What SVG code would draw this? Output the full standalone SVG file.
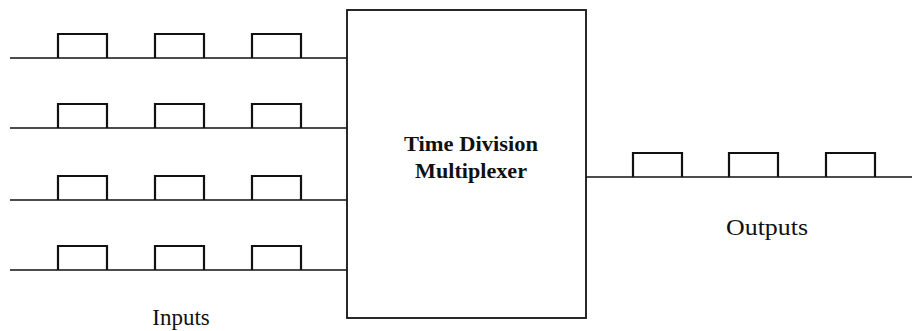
<svg xmlns="http://www.w3.org/2000/svg" width="912" height="331" viewBox="0 0 912 331">
  <defs>
    <style>
      .line { stroke: #111; stroke-width: 1.6; fill: none; }
      .pulse { stroke: #111; stroke-width: 2.2; fill: none; }
      .box { stroke: #111; stroke-width: 1.8; fill: #fff; }
      .title { font-family: "Liberation Serif", "Times New Roman", serif; font-weight: bold; font-size: 22px; fill: #111; }
      .label { font-family: "Liberation Serif", "Times New Roman", serif; font-size: 23px; fill: #111; }
    </style>
    <!-- one pulse: 49 wide, 24 tall, drawn from the baseline up -->
    <path id="pulseShape" d="M0,0 V-24 H49 V0"/>
  </defs>
  <rect width="912" height="331" fill="#fff"/>

  <g id="connectors">
    <!-- input lines -->
    <line class="line" x1="10" y1="58" x2="347" y2="58"/>
    <line class="line" x1="10" y1="128" x2="347" y2="128"/>
    <line class="line" x1="10" y1="200" x2="347" y2="200"/>
    <line class="line" x1="10" y1="270" x2="347" y2="270"/>
    <!-- output line -->
    <line class="line" x1="586" y1="177" x2="912" y2="177"/>
  </g>

  <g id="input-pulses">
    <use href="#pulseShape" class="pulse" x="58" y="58"/>
    <use href="#pulseShape" class="pulse" x="155" y="58"/>
    <use href="#pulseShape" class="pulse" x="252" y="58"/>
    <use href="#pulseShape" class="pulse" x="58" y="128"/>
    <use href="#pulseShape" class="pulse" x="155" y="128"/>
    <use href="#pulseShape" class="pulse" x="252" y="128"/>
    <use href="#pulseShape" class="pulse" x="58" y="200"/>
    <use href="#pulseShape" class="pulse" x="155" y="200"/>
    <use href="#pulseShape" class="pulse" x="252" y="200"/>
    <use href="#pulseShape" class="pulse" x="58" y="270"/>
    <use href="#pulseShape" class="pulse" x="155" y="270"/>
    <use href="#pulseShape" class="pulse" x="252" y="270"/>
  </g>

  <g id="output-pulses">
    <use href="#pulseShape" class="pulse" x="633" y="177"/>
    <use href="#pulseShape" class="pulse" x="729" y="177"/>
    <use href="#pulseShape" class="pulse" x="826" y="177"/>
  </g>

  <g id="multiplexer">
    <rect class="box" x="347" y="10" width="239" height="308"/>
    <text class="title" x="471" y="151" text-anchor="middle" textLength="134" lengthAdjust="spacingAndGlyphs">Time Division</text>
    <text class="title" x="471" y="178" text-anchor="middle" textLength="112" lengthAdjust="spacingAndGlyphs">Multiplexer</text>
  </g>

  <g id="inputs-label">
    <text class="label" x="181" y="325" text-anchor="middle">Inputs</text>
  </g>

  <g id="outputs-label">
    <text class="label" x="767" y="235" text-anchor="middle" textLength="82" lengthAdjust="spacingAndGlyphs">Outputs</text>
  </g>
</svg>
